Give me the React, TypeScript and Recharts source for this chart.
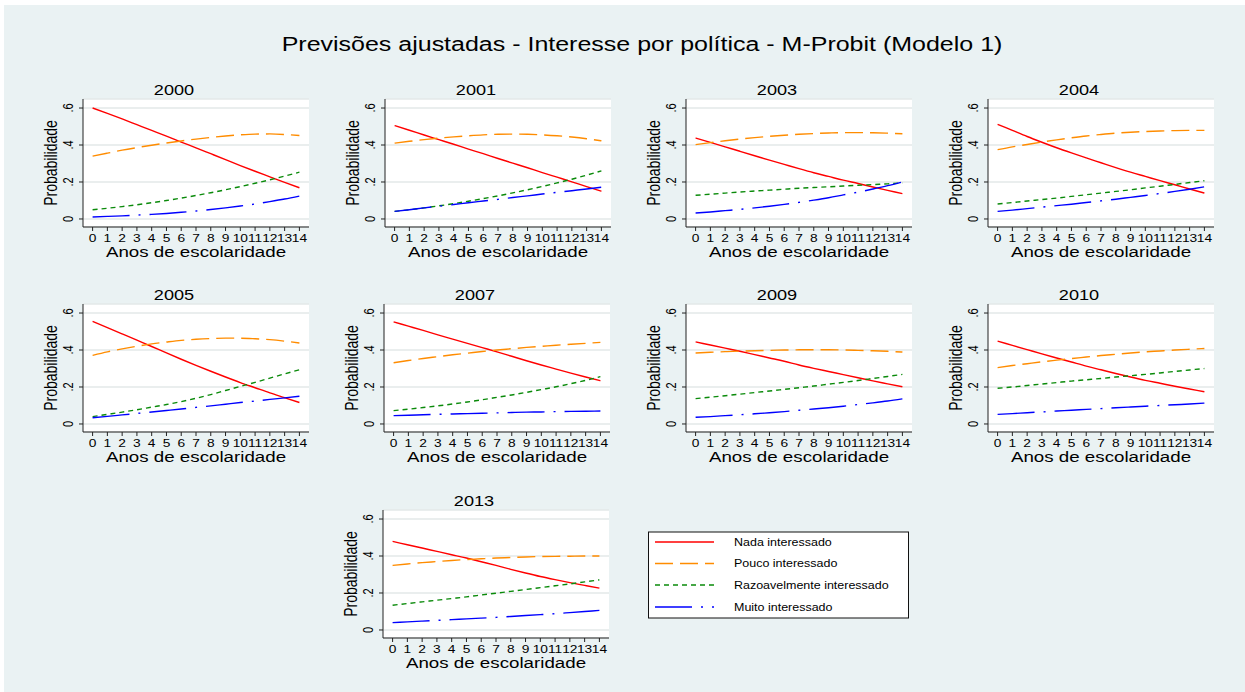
import React from 'react';
import { LineChart, Line, XAxis, YAxis, CartesianGrid, Customized } from 'recharts';

// ---- data -------------------------------------------------------------
const schooling = [0, 1, 2, 3, 4, 5, 6, 7, 8, 9, 10, 11, 12, 13, 14];
const yTicks = [0, 0.2, 0.4, 0.6];
const yTickLabels = ['0', '.2', '.4', '.6'];
const seriesNames = ['Nada interessado', 'Pouco interessado', 'Razoavelmente interessado', 'Muito interessado'];
const years = ['2000', '2001', '2003', '2004', '2005', '2007', '2009', '2010', '2013'];

const nada2000 = [0.600, 0.571, 0.541, 0.510, 0.479, 0.448, 0.416, 0.385, 0.353, 0.321, 0.289, 0.258, 0.228, 0.198, 0.169];
const pouco2000 = [0.340, 0.356, 0.372, 0.386, 0.399, 0.411, 0.422, 0.432, 0.441, 0.449, 0.455, 0.459, 0.460, 0.457, 0.451];
const razo2000 = [0.050, 0.058, 0.067, 0.077, 0.088, 0.100, 0.113, 0.127, 0.142, 0.158, 0.175, 0.193, 0.212, 0.232, 0.253];
const muito2000 = [0.011, 0.014, 0.017, 0.021, 0.025, 0.030, 0.036, 0.043, 0.051, 0.060, 0.070, 0.081, 0.094, 0.108, 0.124];

const nada2001 = [0.505, 0.480, 0.454, 0.429, 0.404, 0.378, 0.353, 0.327, 0.302, 0.277, 0.251, 0.226, 0.201, 0.175, 0.150];
const pouco2001 = [0.410, 0.420, 0.429, 0.437, 0.444, 0.450, 0.455, 0.458, 0.459, 0.458, 0.455, 0.450, 0.443, 0.434, 0.423];
const razo2001 = [0.041, 0.050, 0.060, 0.071, 0.083, 0.096, 0.110, 0.125, 0.141, 0.158, 0.176, 0.195, 0.215, 0.237, 0.260];
const muito2001 = [0.041, 0.050, 0.060, 0.069, 0.078, 0.088, 0.097, 0.106, 0.116, 0.125, 0.135, 0.144, 0.153, 0.162, 0.172];

const nada2003 = [0.438, 0.414, 0.390, 0.366, 0.342, 0.318, 0.295, 0.272, 0.250, 0.230, 0.210, 0.192, 0.173, 0.155, 0.137];
const pouco2003 = [0.402, 0.413, 0.423, 0.432, 0.440, 0.447, 0.453, 0.458, 0.462, 0.465, 0.467, 0.467, 0.466, 0.464, 0.461];
const razo2003 = [0.128, 0.134, 0.140, 0.146, 0.151, 0.156, 0.161, 0.166, 0.170, 0.174, 0.178, 0.182, 0.186, 0.190, 0.195];
const muito2003 = [0.032, 0.038, 0.045, 0.052, 0.060, 0.069, 0.079, 0.090, 0.102, 0.115, 0.130, 0.145, 0.162, 0.180, 0.200];

const nada2004 = [0.512, 0.479, 0.446, 0.415, 0.385, 0.357, 0.330, 0.304, 0.278, 0.253, 0.230, 0.207, 0.185, 0.162, 0.140];
const pouco2004 = [0.375, 0.390, 0.403, 0.416, 0.428, 0.439, 0.449, 0.457, 0.464, 0.469, 0.473, 0.476, 0.478, 0.479, 0.479];
const razo2004 = [0.081, 0.089, 0.097, 0.105, 0.113, 0.122, 0.131, 0.140, 0.149, 0.158, 0.168, 0.177, 0.187, 0.197, 0.207];
const muito2004 = [0.041, 0.048, 0.056, 0.064, 0.072, 0.080, 0.089, 0.098, 0.107, 0.117, 0.127, 0.138, 0.149, 0.161, 0.174];

const nada2005 = [0.555, 0.521, 0.487, 0.453, 0.419, 0.384, 0.350, 0.317, 0.285, 0.254, 0.224, 0.196, 0.168, 0.142, 0.116];
const pouco2005 = [0.371, 0.390, 0.406, 0.420, 0.433, 0.443, 0.452, 0.458, 0.462, 0.464, 0.464, 0.461, 0.456, 0.448, 0.438];
const razo2005 = [0.040, 0.052, 0.064, 0.077, 0.091, 0.105, 0.121, 0.139, 0.159, 0.181, 0.203, 0.225, 0.248, 0.271, 0.293];
const muito2005 = [0.034, 0.041, 0.049, 0.057, 0.065, 0.073, 0.081, 0.090, 0.098, 0.107, 0.116, 0.124, 0.133, 0.141, 0.150];

const nada2007 = [0.552, 0.529, 0.506, 0.482, 0.459, 0.436, 0.413, 0.390, 0.366, 0.342, 0.319, 0.297, 0.275, 0.254, 0.234];
const pouco2007 = [0.331, 0.343, 0.354, 0.364, 0.374, 0.383, 0.392, 0.400, 0.407, 0.414, 0.420, 0.426, 0.431, 0.436, 0.441];
const razo2007 = [0.072, 0.080, 0.089, 0.098, 0.108, 0.119, 0.131, 0.144, 0.157, 0.171, 0.186, 0.201, 0.218, 0.236, 0.256];
const muito2007 = [0.045, 0.047, 0.050, 0.052, 0.054, 0.056, 0.058, 0.060, 0.062, 0.064, 0.065, 0.067, 0.068, 0.069, 0.070];

const nada2009 = [0.444, 0.427, 0.410, 0.393, 0.375, 0.357, 0.339, 0.319, 0.301, 0.284, 0.267, 0.250, 0.233, 0.217, 0.201];
const pouco2009 = [0.384, 0.388, 0.391, 0.394, 0.396, 0.398, 0.400, 0.401, 0.401, 0.401, 0.400, 0.398, 0.396, 0.393, 0.389];
const razo2009 = [0.137, 0.145, 0.153, 0.161, 0.170, 0.178, 0.187, 0.196, 0.205, 0.215, 0.225, 0.235, 0.246, 0.257, 0.268];
const muito2009 = [0.036, 0.040, 0.045, 0.050, 0.055, 0.061, 0.067, 0.074, 0.081, 0.088, 0.096, 0.105, 0.114, 0.124, 0.136];

const nada2010 = [0.448, 0.425, 0.402, 0.379, 0.357, 0.335, 0.313, 0.293, 0.273, 0.254, 0.236, 0.220, 0.204, 0.189, 0.174];
const pouco2010 = [0.305, 0.316, 0.326, 0.336, 0.345, 0.354, 0.362, 0.370, 0.377, 0.384, 0.390, 0.395, 0.400, 0.404, 0.408];
const razo2010 = [0.193, 0.200, 0.208, 0.216, 0.224, 0.232, 0.239, 0.246, 0.254, 0.261, 0.268, 0.276, 0.284, 0.292, 0.300];
const muito2010 = [0.052, 0.056, 0.061, 0.065, 0.070, 0.074, 0.079, 0.083, 0.088, 0.092, 0.096, 0.100, 0.104, 0.108, 0.113];

const nada2013 = [0.479, 0.461, 0.443, 0.425, 0.407, 0.389, 0.369, 0.349, 0.328, 0.308, 0.289, 0.272, 0.256, 0.241, 0.226];
const pouco2013 = [0.349, 0.357, 0.364, 0.370, 0.376, 0.381, 0.385, 0.389, 0.392, 0.395, 0.397, 0.398, 0.399, 0.400, 0.400];
const razo2013 = [0.134, 0.143, 0.152, 0.161, 0.170, 0.179, 0.189, 0.199, 0.209, 0.219, 0.229, 0.239, 0.249, 0.260, 0.271];
const muito2013 = [0.040, 0.044, 0.048, 0.052, 0.056, 0.060, 0.064, 0.068, 0.073, 0.078, 0.083, 0.088, 0.094, 0.100, 0.106];

const panelSeries = [
  [nada2000, pouco2000, razo2000, muito2000],
  [nada2001, pouco2001, razo2001, muito2001],
  [nada2003, pouco2003, razo2003, muito2003],
  [nada2004, pouco2004, razo2004, muito2004],
  [nada2005, pouco2005, razo2005, muito2005],
  [nada2007, pouco2007, razo2007, muito2007],
  [nada2009, pouco2009, razo2009, muito2009],
  [nada2010, pouco2010, razo2010, muito2010],
  [nada2013, pouco2013, razo2013, muito2013],
];

// ---- layout & styles --------------------------------------------------
const FONT = "'Liberation Sans', Arial, Helvetica, sans-serif";
const S = 1.25; // horizontal glyph stretch of the exported graph
const CW = 300;
const CH = 200;
const PL = 60; // y-axis band
const PT = 30; // space above plot region
const PW = 226;
const PH = 128;
const XH = 40;
const X_DOMAIN: [number, number] = [-0.65, 14.65];
const Y_DOMAIN: [number, number] = [-0.0434, 0.6488];

// plot-region top-left corner of each panel on the page
const slots = [
  { left: 83, top: 99 }, { left: 385, top: 99 }, { left: 686, top: 99 }, { left: 988, top: 99 },
  { left: 83, top: 304 }, { left: 384, top: 304 }, { left: 686, top: 304 }, { left: 988, top: 304 },
  { left: 383, top: 510 },
];

const lineStyles = [
  { key: 'nada', color: '#ff0000', dash: undefined as string | undefined },
  { key: 'pouco', color: '#ff8c00', dash: '18 7' },
  { key: 'razo', color: '#0a8a0a', dash: '5 4' },
  { key: 'muito', color: '#0000ff', dash: '37 9 2 9' },
];

function SText(props: {
  x: number; y: number; size: number; children: React.ReactNode;
  anchor?: 'start' | 'middle' | 'end'; rotate?: boolean;
}) {
  const { x, y, size, children, anchor = 'middle', rotate = false } = props;
  const t = `translate(${x},${y}) scale(${S},1)${rotate ? ' rotate(-90)' : ''}`;
  return (
    <text transform={t} x={0} y={0} textAnchor={anchor} fontSize={size} fill="#000" fontFamily={FONT}>
      {children}
    </text>
  );
}

function XTick(props: any) {
  const { x, y, payload } = props;
  return <SText x={x} y={y + 11} size={11}>{String(payload.value)}</SText>;
}

function YTick(props: any) {
  const { x, y, payload } = props;
  const i = yTicks.findIndex((v) => Math.abs(v - payload.value) < 1e-9);
  return <SText x={x - 6} y={y} size={11} rotate>{yTickLabels[i] ?? ''}</SText>;
}

function PanelTexts(props: { year: string }) {
  return (
    <g>
      <SText x={PL + PW / 2 - 22} y={PT - 4} size={14.5}>{props.year}</SText>
      <SText x={PL - 26} y={PT + PH / 2} size={14} rotate>Probabilidade</SText>
      <SText x={PL + PW / 2} y={PT + PH + 29.5} size={15}>Anos de escolaridade</SText>
    </g>
  );
}

function Panel(props: { index: number }) {
  const { index } = props;
  const series = panelSeries[index];
  const rows = schooling.map((x, i) => ({
    x,
    nada: series[0][i],
    pouco: series[1][i],
    razo: series[2][i],
    muito: series[3][i],
  }));
  const slot = slots[index];
  return (
    <div style={{ position: 'absolute', left: slot.left - PL, top: slot.top - PT }}>
      <LineChart
        width={CW}
        height={CH}
        data={rows}
        margin={{ top: PT, right: CW - PL - PW, bottom: CH - PT - PH - XH, left: 0 }}
      >
        <CartesianGrid horizontal vertical={false} fill="#ffffff" stroke="#e3e8e9" strokeWidth={1.5} />
        <XAxis
          dataKey="x"
          type="number"
          domain={X_DOMAIN}
          ticks={schooling}
          interval={0}
          allowDataOverflow
          height={XH}
          tickSize={4}
          tickMargin={0}
          stroke="#222"
          tick={XTick}
        />
        <YAxis
          type="number"
          domain={Y_DOMAIN}
          ticks={yTicks}
          interval={0}
          allowDataOverflow
          width={PL}
          tickSize={4}
          tickMargin={0}
          stroke="#222"
          tick={YTick}
        />
        {lineStyles.map((s) => (
          <Line
            key={s.key}
            type="monotone"
            dataKey={s.key}
            stroke={s.color}
            strokeWidth={1.4}
            strokeDasharray={s.dash}
            dot={false}
            activeDot={false}
            isAnimationActive={false}
          />
        ))}
        <Customized component={<PanelTexts year={years[index]} />} />
      </LineChart>
    </div>
  );
}

function LegendBox() {
  const rowsY = [542, 563.5, 585, 607];
  return (
    <g>
      <rect x={648.5} y={532} width={260} height={86} fill="#ffffff" stroke="#111" strokeWidth={1} />
      {lineStyles.map((s, i) => (
        <g key={s.key}>
          <line x1={655} x2={714} y1={rowsY[i]} y2={rowsY[i]} stroke={s.color} strokeWidth={1.4} strokeDasharray={s.dash} />
          <SText x={734} y={rowsY[i] + 3.5} size={10} anchor="start">{seriesNames[i]}</SText>
        </g>
      ))}
    </g>
  );
}

export default function App() {
  return (
    <div style={{ position: 'absolute', left: 0, top: 0, width: 1245, height: 692, background: '#ffffff', overflow: 'hidden' }}>
      <div style={{ position: 'absolute', left: 4, top: 5, right: 0, bottom: 0, background: '#eaf2f3' }} />
      {years.map((y, i) => (
        <Panel key={y} index={i} />
      ))}
      <svg width={1245} height={692} style={{ position: 'absolute', left: 0, top: 0, pointerEvents: 'none' }}>
        <SText x={642} y={51} size={20}>Previsões ajustadas - Interesse por política - M-Probit (Modelo 1)</SText>
        <LegendBox />
      </svg>
    </div>
  );
}
